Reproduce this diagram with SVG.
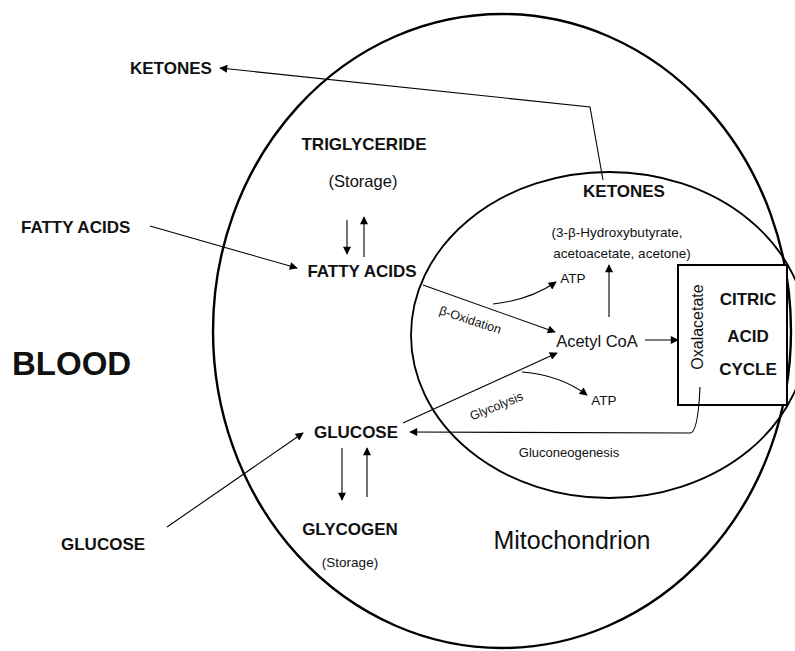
<svg xmlns="http://www.w3.org/2000/svg" width="795" height="651" viewBox="0 0 795 651">
<defs>
<marker id="ah" viewBox="0 0 10 10" refX="9" refY="5" markerWidth="10" markerHeight="8" markerUnits="userSpaceOnUse" orient="auto">
<path d="M0,0 L10,5 L0,10 z" fill="#000"/>
</marker>
</defs>
<style>
text{font-family:"Liberation Sans",Arial,sans-serif;fill:#111}
.b{font-weight:bold;font-size:17px}
.n{font-size:13.5px}
.c{stroke:#000;stroke-width:1.1;fill:none;marker-end:url(#ah)}
</style>
<rect width="795" height="651" fill="#fff"/>
<g id="cell"><ellipse cx="502" cy="331" rx="289" ry="317" fill="none" stroke="#000" stroke-width="2.4"/></g>
<g id="mitochondrion"><ellipse cx="609" cy="335" rx="198" ry="163" fill="none" stroke="#000" stroke-width="1.8"/>
<text x="572" y="549" font-size="25" text-anchor="middle">Mitochondrion</text></g>
<g id="citric"><rect x="678" y="265" width="109" height="140" fill="#fff" stroke="#000" stroke-width="2"/>
<text class="b" x="748" y="305" text-anchor="middle" font-size="15">CITRIC</text>
<text class="b" x="748" y="342" text-anchor="middle" font-size="15">ACID</text>
<text class="b" x="748" y="375" text-anchor="middle" font-size="15">CYCLE</text>
<text transform="translate(703,327) rotate(-90)" text-anchor="middle" font-size="16">Oxalacetate</text></g>
<g id="blood"><text x="12" y="375" font-weight="bold" font-size="33">BLOOD</text></g>
<g id="ketones-out"><text class="b" x="130" y="74">KETONES</text></g>
<g id="fatty-out"><text class="b" x="21" y="233">FATTY ACIDS</text></g>
<g id="glucose-out"><text class="b" x="61" y="550">GLUCOSE</text></g>
<g id="triglyceride"><text class="b" x="364" y="150" text-anchor="middle">TRIGLYCERIDE</text>
<text x="363" y="187" text-anchor="middle" font-size="16.5">(Storage)</text></g>
<g id="fatty-in"><text class="b" x="362" y="277" text-anchor="middle">FATTY ACIDS</text></g>
<g id="glucose-in"><text class="b" x="356" y="438" text-anchor="middle">GLUCOSE</text></g>
<g id="glycogen"><text class="b" x="350" y="535" text-anchor="middle">GLYCOGEN</text>
<text class="n" x="350" y="567" text-anchor="middle">(Storage)</text></g>
<g id="ketones-in"><text class="b" x="624" y="197" text-anchor="middle">KETONES</text>
<text class="n" x="617" y="237" text-anchor="middle">(3-β-Hydroxybutyrate,</text>
<text class="n" x="622" y="258" text-anchor="middle">acetoacetate, acetone)</text></g>
<g id="acetyl"><text x="597" y="347" font-size="16.5" text-anchor="middle">Acetyl CoA</text></g>
<g id="atp1"><text class="n" x="573" y="283" text-anchor="middle">ATP</text></g>
<g id="atp2"><text class="n" x="604" y="405" text-anchor="middle">ATP</text></g>
<g id="labels">
<text transform="translate(469,324) rotate(18)" text-anchor="middle" font-size="12.5">β-Oxidation</text>
<text transform="translate(498,410) rotate(-22)" text-anchor="middle" font-size="12.5">Glycolysis</text>
<text x="569" y="457" text-anchor="middle" font-size="13">Gluconeogenesis</text>
</g>
<g id="connectors">
<polyline class="c" points="603,180 590,107 220,68"/>
<line class="c" x1="150" y1="226" x2="297" y2="268"/>
<line class="c" x1="167" y1="527" x2="303" y2="433"/>
<line class="c" x1="347" y1="220" x2="347" y2="254"/>
<line class="c" x1="364" y1="257" x2="364" y2="217"/>
<line class="c" x1="342" y1="448" x2="342" y2="500"/>
<line class="c" x1="367" y1="497" x2="367" y2="448"/>
<line class="c" x1="423" y1="285" x2="555" y2="332"/>
<path class="c" d="M493,304 Q530,300 556,282"/>
<line class="c" x1="609" y1="317" x2="609" y2="265"/>
<line class="c" x1="645" y1="340" x2="678" y2="340"/>
<line class="c" x1="403" y1="423" x2="557" y2="353"/>
<path class="c" d="M522,372 Q560,375 587,395"/>
<path class="c" d="M700,387 Q698,433 690,433 L410,432"/>
</g>
</svg>
